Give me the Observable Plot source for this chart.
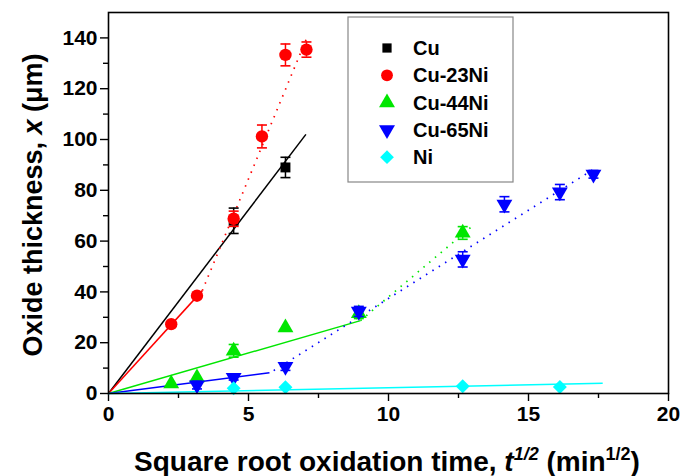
<!DOCTYPE html>
<html>
<head>
<meta charset="utf-8">
<script src="https://cdn.jsdelivr.net/npm/d3@7"></script>
<script src="https://cdn.jsdelivr.net/npm/@observablehq/plot@0.6"></script>
<style>
  html, body { margin: 0; padding: 0; background: #fff; }
  #chart { width: 682px; height: 476px; }
</style>
</head>
<body>
<div id="chart"></div>
<script>
// ---- data ----
const seriesNames = ["Cu", "Cu-23Ni", "Cu-44Ni", "Cu-65Ni", "Ni"];
const seriesColors = ["#000000", "#ff0000", "#00e600", "#0000ff", "#00ffff"];
const seriesSymbols = ["square", "circle", "triangle", "triangle", "diamond2"];
const seriesRotate = [0, 0, 0, 180, 0];
const seriesRadius = [5.6, 6.2, 5.9, 5.9, 6.3];

const cuT = [4.47, 6.32];
const cuX = [68, 89];
const cuErr = [5, 4];

const cu23T = [2.24, 3.16, 4.47, 5.48, 6.32, 7.07];
const cu23X = [27.3, 38.5, 68.8, 101.2, 133.3, 135.4];
const cu23Err = [0, 0, 3, 4.5, 4.3, 3];

const cu44T = [2.24, 3.16, 4.47, 6.32, 8.94, 12.65];
const cu44X = [3.9, 6.2, 16.8, 25.9, 31.5, 63.2];
const cu44Err = [0, 0, 2.5, 0, 2, 2.5];

const cu65T = [3.16, 4.47, 6.32, 8.94, 12.65, 14.14, 16.12, 17.32];
const cu65X = [3.3, 6.3, 10.6, 32.3, 52.8, 74.5, 79.3, 86.3];
const cu65Err = [1.5, 1, 1.5, 2, 3, 3, 3, 1.5];

const niT = [4.47, 6.32, 12.65, 16.12];
const niX = [2.1, 2.5, 2.9, 2.6];
const niErr = [0, 0, 0, 0];

// fitted lines: series, t start, x start, t end, x end, style
const fitLines = [
  ["Cu",      0,    0,    7.05, 102,   "solid"],
  ["Cu-23Ni", 0,    0,    3.35, 40.5,  "solid"],
  ["Cu-23Ni", 3.35, 40.5, 7.10, 140.5, "dotted"],
  ["Cu-44Ni", 0,    0,    9.0,  28.7,  "solid"],
  ["Cu-44Ni", 9.0,  28.7, 12.95, 65.5, "dotted"],
  ["Cu-65Ni", 0,    0,    5.75, 8.2,   "solid"],
  ["Cu-65Ni", 5.9,  9.0,  17.4, 88.8,  "dotted"],
  ["Ni",      0,    0,    17.65, 4.0,  "solid"]
];

const yTicks = [0, 20, 40, 60, 80, 100, 120, 140];
const yMinorTicks = [10, 30, 50, 70, 90, 110, 130];
const xTicks = [0, 5, 10, 15, 20];
const xMinorTicks = [2.5, 7.5, 12.5, 17.5];

// ---- build rows ----
const raw = [
  [cuT, cuX, cuErr], [cu23T, cu23X, cu23Err], [cu44T, cu44X, cu44Err],
  [cu65T, cu65X, cu65Err], [niT, niX, niErr]
];
const colorOf = Object.fromEntries(seriesNames.map((s, i) => [s, seriesColors[i]]));
const fits = fitLines.map(([s, t0, x0, t1, x1, style]) => ({s, t0, x0, t1, x1, style}));

const cap = {
  draw(context, size) {
    const w = 5;
    context.moveTo(-w, 0);
    context.lineTo(w, 0);
  }
};

const seriesMarks = [];
raw.forEach(([T, X, E], i) => {
  const s = seriesNames[i];
  const rows = T.map((t, j) => ({s, t, x: X[j], e: E[j]}));
  const errRows = rows.filter(d => d.e > 0);
  const c = seriesColors[i];
  seriesMarks.push(
    Plot.ruleX(errRows, {x: "t", y1: d => d.x - d.e, y2: d => d.x + d.e, stroke: c, strokeWidth: 1.5}),
    Plot.dot(errRows, {x: "t", y: d => d.x + d.e, symbol: cap, stroke: c, strokeWidth: 1.6, r: 4}),
    Plot.dot(errRows, {x: "t", y: d => d.x - d.e, symbol: cap, stroke: c, strokeWidth: 1.6, r: 4}),
    Plot.dot(rows, {x: "t", y: "x", symbol: seriesSymbols[i], rotate: seriesRotate[i], fill: c, stroke: "none", r: seriesRadius[i]})
  );
});

const font = "'Liberation Sans', Arial, Helvetica, sans-serif";

const svg = Plot.plot({
  width: 682,
  height: 476,
  marginLeft: 108,
  marginRight: 14,
  marginTop: 12,
  marginBottom: 83,
  x: {domain: [0, 20]},
  y: {domain: [0, 150]},
  style: {fontFamily: font, fontWeight: "bold", background: "white", color: "black"},
  marks: [
    Plot.axisY({ticks: yTicks, tickSize: 8, tickPadding: 3, fontSize: 21, label: null, strokeWidth: 1.4}),
    Plot.axisY({ticks: yMinorTicks, tickSize: 5, text: null, label: null, strokeWidth: 1.4}),
    Plot.axisX({ticks: xTicks, tickSize: 8, tickPadding: 5, fontSize: 21, label: null, strokeWidth: 1.4}),
    Plot.axisX({ticks: xMinorTicks, tickSize: 5, text: null, label: null, strokeWidth: 1.4}),
    Plot.link(fits.filter(d => d.style === "solid"), {
      x1: "t0", y1: "x0", x2: "t1", y2: "x1",
      stroke: d => colorOf[d.s], strokeWidth: 1.5
    }),
    Plot.link(fits.filter(d => d.style === "dotted"), {
      x1: "t0", y1: "x0", x2: "t1", y2: "x1",
      stroke: d => colorOf[d.s], strokeWidth: 1.7, strokeDasharray: "1.5,6"
    }),
    ...seriesMarks,
    Plot.frame({stroke: "black", strokeWidth: 1.6})
  ]
});

const root = d3.select(svg);

// axis titles
root.append("text")
  .attr("x", 387).attr("y", 471)
  .attr("text-anchor", "middle")
  .style("font-family", font).style("font-weight", "bold").style("font-size", "28px")
  .call(t => {
    t.append("tspan").text("Square root oxidation time, ");
    t.append("tspan").style("font-style", "italic").text("t");
    t.append("tspan").attr("dy", -11).style("font-style", "italic").style("font-size", "18px").text("1/2");
    t.append("tspan").attr("dy", 11).text(" (min");
    t.append("tspan").attr("dy", -11).style("font-size", "18px").text("1/2");
    t.append("tspan").attr("dy", 11).text(")");
  });

root.append("text")
  .attr("transform", "translate(42,205) rotate(-90)")
  .attr("text-anchor", "middle")
  .style("font-family", font).style("font-weight", "bold").style("font-size", "27px")
  .call(t => {
    t.append("tspan").text("Oxide thickness, ");
    t.append("tspan").style("font-style", "italic").text("x");
    t.append("tspan").text(" (\u03bcm)");
  });

// legend
const lg = root.append("g");
lg.append("rect").attr("x", 348).attr("y", 17).attr("width", 165).attr("height", 165)
  .attr("fill", "white").attr("stroke", "#888").attr("stroke-width", 1.2);
const legendSym = [d3.symbolSquare, d3.symbolCircle, d3.symbolTriangle, d3.symbolTriangle, d3.symbolDiamond2];
const legendSize = [85, 110, 110, 110, 120];
seriesNames.forEach((name, i) => {
  const y = 48 + i * 27.3;
  lg.append("path")
    .attr("d", d3.symbol(legendSym[i], legendSize[i])())
    .attr("transform", `translate(387,${y}) rotate(${seriesRotate[i]})`)
    .attr("fill", seriesColors[i]);
  lg.append("text").attr("x", 413).attr("y", y + 7)
    .attr("text-anchor", "start")
    .style("font-family", font).style("font-weight", "bold").style("font-size", "20px")
    .text(name);
});

document.getElementById("chart").appendChild(svg);
</script>
</body>
</html>
